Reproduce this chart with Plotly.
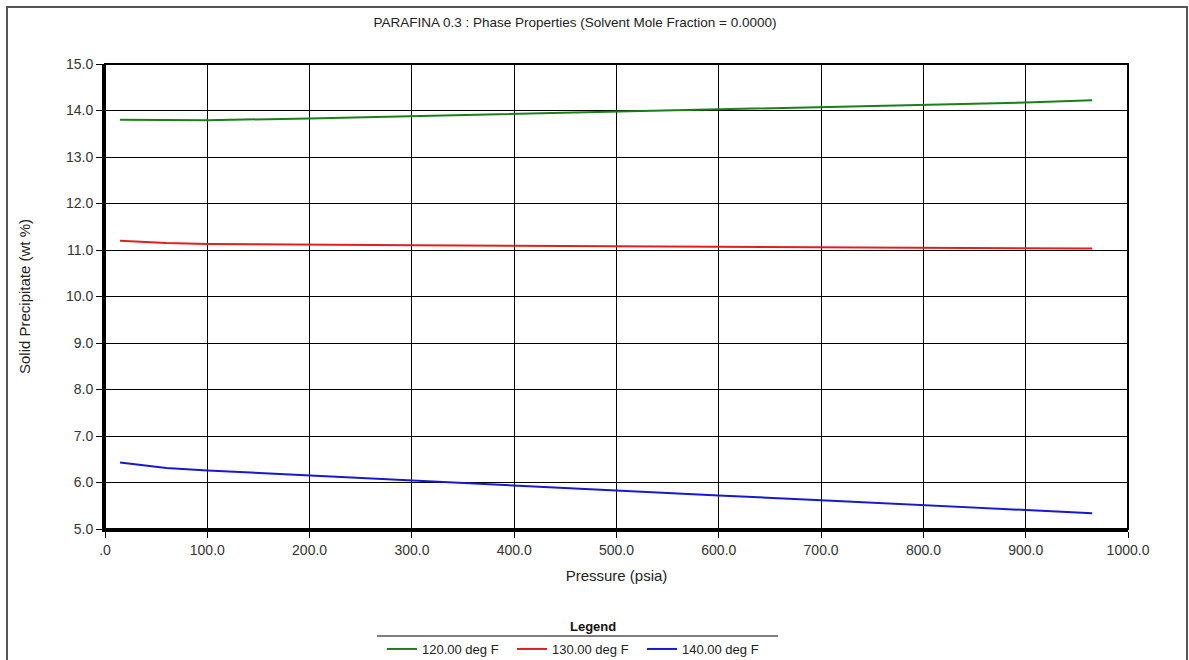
import plotly.graph_objects as go

pressure = [14.7, 60, 100, 200, 300, 400, 500, 600, 700, 800, 900, 965]
solid_120 = [13.80, 13.79, 13.79, 13.83, 13.88, 13.93, 13.98, 14.02, 14.07, 14.12, 14.17, 14.22]
solid_130 = [11.20, 11.15, 11.13, 11.11, 11.10, 11.09, 11.08, 11.07, 11.06, 11.05, 11.04, 11.03]
solid_140 = [6.43, 6.31, 6.26, 6.15, 6.04, 5.94, 5.83, 5.72, 5.62, 5.51, 5.41, 5.34]

series_names = ["120.00 deg F", "130.00 deg F", "140.00 deg F"]
series_colors = ["#1a7f1a", "#e02020", "#1818d0"]

x_tickvals = [0, 100, 200, 300, 400, 500, 600, 700, 800, 900, 1000]
x_ticktext = [".0", "100.0", "200.0", "300.0", "400.0", "500.0", "600.0", "700.0", "800.0", "900.0", "1000.0"]
y_tickvals = [5, 6, 7, 8, 9, 10, 11, 12, 13, 14, 15]
y_ticktext = ["5.0", "6.0", "7.0", "8.0", "9.0", "10.0", "11.0", "12.0", "13.0", "14.0", "15.0"]

fig = go.Figure()
for name, ys, col in zip(series_names, [solid_120, solid_130, solid_140], series_colors):
    fig.add_trace(go.Scatter(x=pressure, y=ys, mode="lines", name=name,
                             line=dict(color=col, width=2)))

font_family = "Liberation Sans, Arial, sans-serif"

fig.update_layout(
    width=1189, height=660,
    margin=dict(l=105, r=61, t=64, b=131, autoexpand=False),
    paper_bgcolor="white", plot_bgcolor="white",
    font=dict(family=font_family, color="#333333", size=13),
    title=dict(text="PARAFINA 0.3 : Phase Properties (Solvent Mole Fraction = 0.0000)",
               x=575/1189, xanchor="center", y=1-22/660, yanchor="middle",
               font=dict(size=13.5, color="#222222")),
    showlegend=True,
    legend=dict(orientation="h", x=(577-105)/1023, xanchor="center", y=(529-634)/465, yanchor="top",
                font=dict(size=13, color="#222222"),
                itemwidth=30, entrywidth=85, tracegroupgap=0, bgcolor="rgba(0,0,0,0)"),
    xaxis=dict(range=[0, 1000], tickvals=x_tickvals, ticktext=x_ticktext,
               showgrid=True, gridcolor="#000000", gridwidth=1,
               showline=True, linecolor="#000000", linewidth=3,
               ticks="outside", ticklen=6, tickcolor="#000000", tickwidth=1,
               zeroline=False, tickfont=dict(size=14, color="#333333"),
               title=dict(text="Pressure (psia)", font=dict(size=15, color="#222222"), standoff=14)),
    yaxis=dict(range=[5, 15], tickvals=y_tickvals, ticktext=y_ticktext,
               showgrid=True, gridcolor="#000000", gridwidth=1,
               showline=True, linecolor="#000000", linewidth=3,
               ticks="outside", ticklen=6, tickcolor="#000000", tickwidth=1,
               zeroline=False, tickfont=dict(size=14, color="#333333"),
               title=dict(text="Solid Precipitate (wt %)", font=dict(size=15, color="#222222"), standoff=32)),
)

# legend heading
fig.add_annotation(text="<b>Legend</b>", xref="paper", yref="paper",
                   x=(593-105)/1023, y=(529-626)/465, xanchor="center", yanchor="middle",
                   showarrow=False, font=dict(size=13, color="#111111"))

# plot frame (top/right)
fig.add_shape(type="rect", xref="paper", yref="paper", x0=0, x1=1, y0=0, y1=1,
              line=dict(color="#000000", width=2), layer="above")
# outer window border
fig.add_shape(type="rect", xref="paper", yref="paper",
              x0=(7-105)/1023, x1=(1187-105)/1023, y0=-0.35, y1=(529-7)/465,
              line=dict(color="#555555", width=2))
# line under legend heading
fig.add_shape(type="line", xref="paper", yref="paper",
              x0=(377-105)/1023, x1=(778-105)/1023, y0=(529-636)/465, y1=(529-636)/465,
              line=dict(color="#000000", width=1))

fig.write_html("out.html")
